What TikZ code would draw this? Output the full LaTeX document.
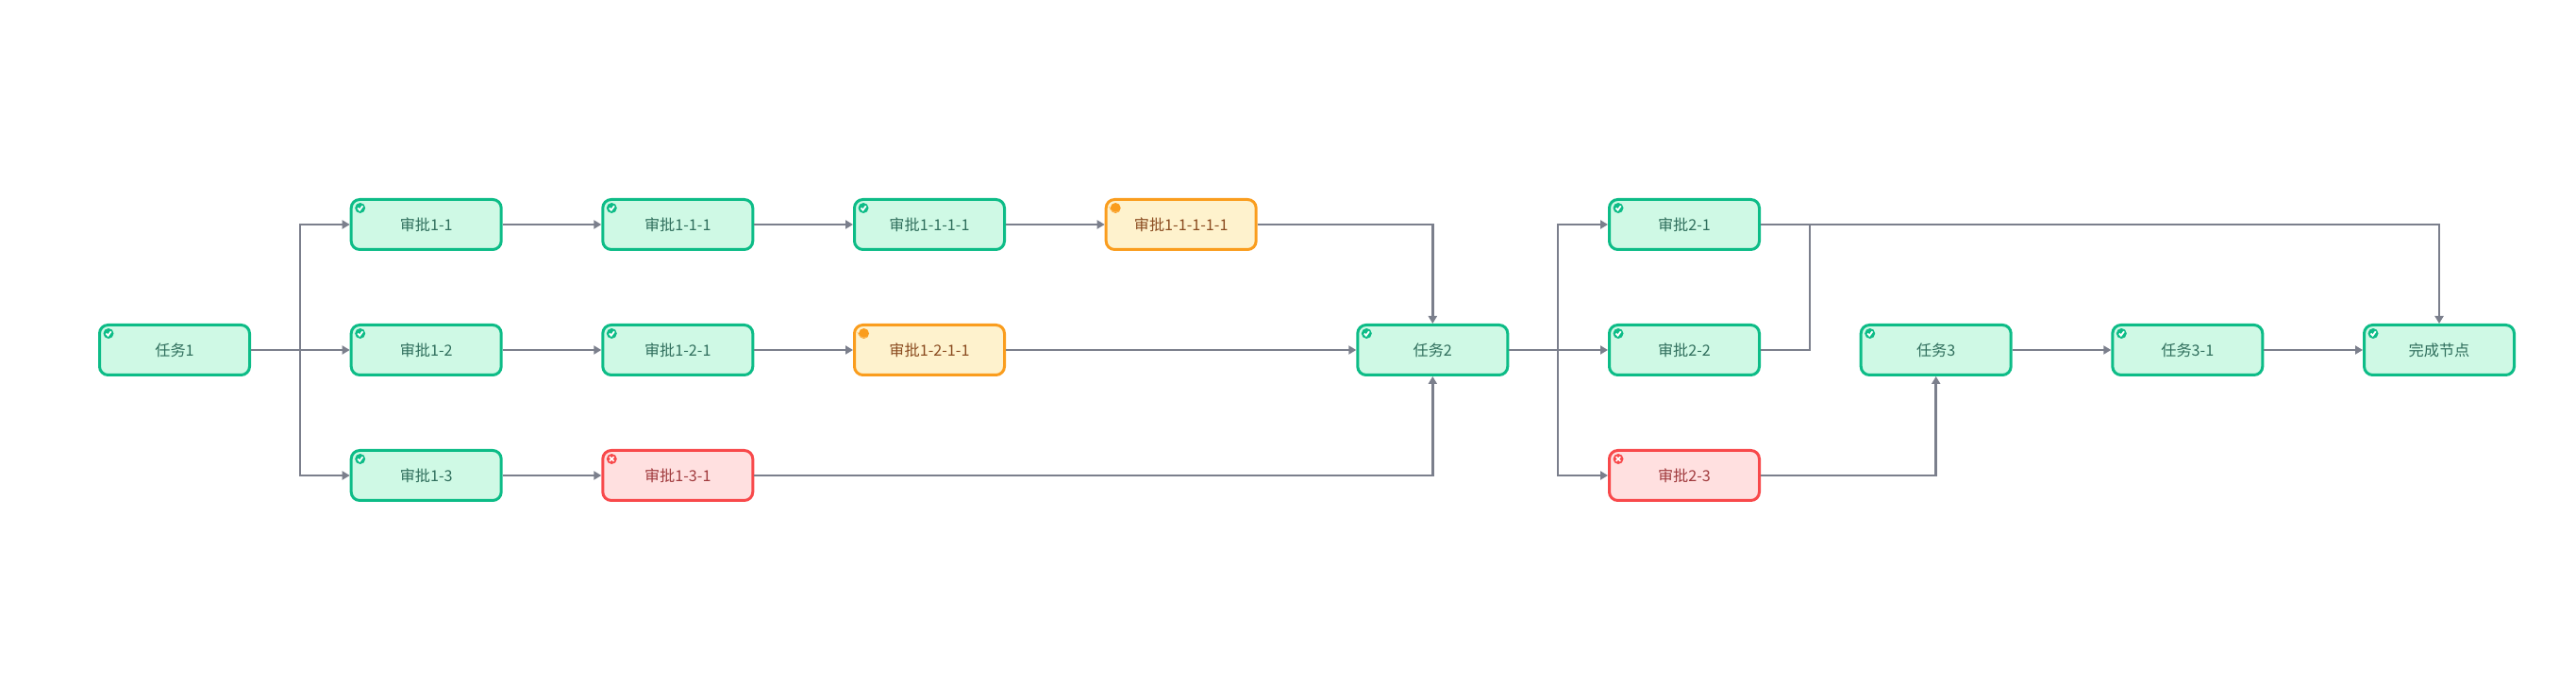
\documentclass[tikz,border=0pt]{standalone}
\usepackage{fontspec}
\usetikzlibrary{arrows.meta}
\newfontfamily\cjk{Noto Sans CJK SC}
\definecolor{doneline}{HTML}{0DBC87}
\definecolor{donefill}{HTML}{CFF9E5}
\definecolor{donetext}{HTML}{2F6E5C}
\definecolor{waitline}{HTML}{FA9D1E}
\definecolor{waitfill}{HTML}{FEF2CD}
\definecolor{waittext}{HTML}{8A4B1F}
\definecolor{failline}{HTML}{F8494B}
\definecolor{failfill}{HTML}{FFE0E0}
\definecolor{failtext}{HTML}{A03A3D}
\definecolor{linkgray}{HTML}{7B7F8C}
\tikzset{
  box/.style={line width=.03cm, rounded corners=.09cm, minimum width=1.59cm, minimum height=.53cm,
    inner sep=0pt, font=\cjk\fontsize{4.6}{6}\selectfont},
  done/.style={box, draw=doneline, fill=donefill, text=donetext, path picture={
    \coordinate (mark) at ([shift={(.095,-.09)}]path picture bounding box.north west);
    \fill[doneline] (mark) circle (.055);
    \draw[white, line width=.018cm, sharp corners] ([shift={(-.025,0)}]mark) -- ([shift={(-.005,-.022)}]mark) -- ([shift={(.027,.022)}]mark);}},
  wait/.style={box, draw=waitline, fill=waitfill, text=waittext, path picture={
    \coordinate (mark) at ([shift={(.1,-.09)}]path picture bounding box.north west);
    \fill[waitline] (mark) circle (.055);
    \draw[waitline!70, line width=.006cm, sharp corners] ([shift={(-.068,.015)}]mark) arc (190:300:.07);}},
  fail/.style={box, draw=failline, fill=failfill, text=failtext, path picture={
    \coordinate (mark) at ([shift={(.095,-.09)}]path picture bounding box.north west);
    \fill[failline] (mark) circle (.055);
    \draw[white, line width=.016cm, sharp corners] ([shift={(-.023,.023)}]mark) -- ([shift={(.023,-.023)}]mark)
      ([shift={(-.023,-.023)}]mark) -- ([shift={(.023,.023)}]mark);}},
  link/.style={draw=linkgray, line width=.028cm, -{Triangle[length=.08cm, width=.09cm]}},
  plain link/.style={draw=linkgray, line width=.028cm}
}
\begin{document}
\begin{tikzpicture}
  \useasboundingbox (0,0) rectangle (27.3,7.42);
  \node[done] (task1) at(1.85,3.71){任务1};
  \node[done] (appr11) at(4.517,5.04){审批1-1};
  \node[done] (appr12) at(4.517,3.71){审批1-2};
  \node[done] (appr13) at(4.517,2.38){审批1-3};
  \node[done] (appr111) at(7.183,5.04){审批1-1-1};
  \node[done] (appr121) at(7.183,3.71){审批1-2-1};
  \node[fail] (appr131) at(7.183,2.38){审批1-3-1};
  \node[done] (appr1111) at(9.85,5.04){审批1-1-1-1};
  \node[wait] (appr1211) at(9.85,3.71){审批1-2-1-1};
  \node[wait] (appr11111) at(12.517,5.04){审批1-1-1-1-1};
  \node[done] (task2) at(15.183,3.71){任务2};
  \node[done] (appr21) at(17.85,5.04){审批2-1};
  \node[done] (appr22) at(17.85,3.71){审批2-2};
  \node[fail] (appr23) at(17.85,2.38){审批2-3};
  \node[done] (task3) at(20.517,3.71){任务3};
  \node[done] (task31) at(23.183,3.71){任务3-1};
  \node[done] (finish) at(25.85,3.71){完成节点};
  \coordinate (split1) at(3.18,3.71);
  \coordinate (split2) at(16.51,3.71);
  \coordinate (merge2) at(19.18,5.04);
  % first group
  \draw[link] (task1) -- (appr12);
  \draw[link] (split1) |- (appr11);
  \draw[link] (split1) |- (appr13);
  \draw[link] (appr11) -- (appr111);
  \draw[link] (appr111) -- (appr1111);
  \draw[link] (appr1111) -- (appr11111);
  \draw[link] (appr12) -- (appr121);
  \draw[link] (appr121) -- (appr1211);
  \draw[link] (appr13) -- (appr131);
  \draw[link] (appr11111) -| (task2);
  \draw[link] (appr1211) -- (task2);
  \draw[link] (appr131) -| (task2);
  % second group
  \draw[link] (task2) -- (appr22);
  \draw[link] (split2) |- (appr21);
  \draw[link] (split2) |- (appr23);
  \draw[link] (appr21) -| (finish);
  \draw[plain link] (appr22) -| (merge2);
  \draw[link] (appr23) -| (task3);
  \draw[link] (task3) -- (task31);
  \draw[link] (task31) -- (finish);
\end{tikzpicture}
\end{document}
